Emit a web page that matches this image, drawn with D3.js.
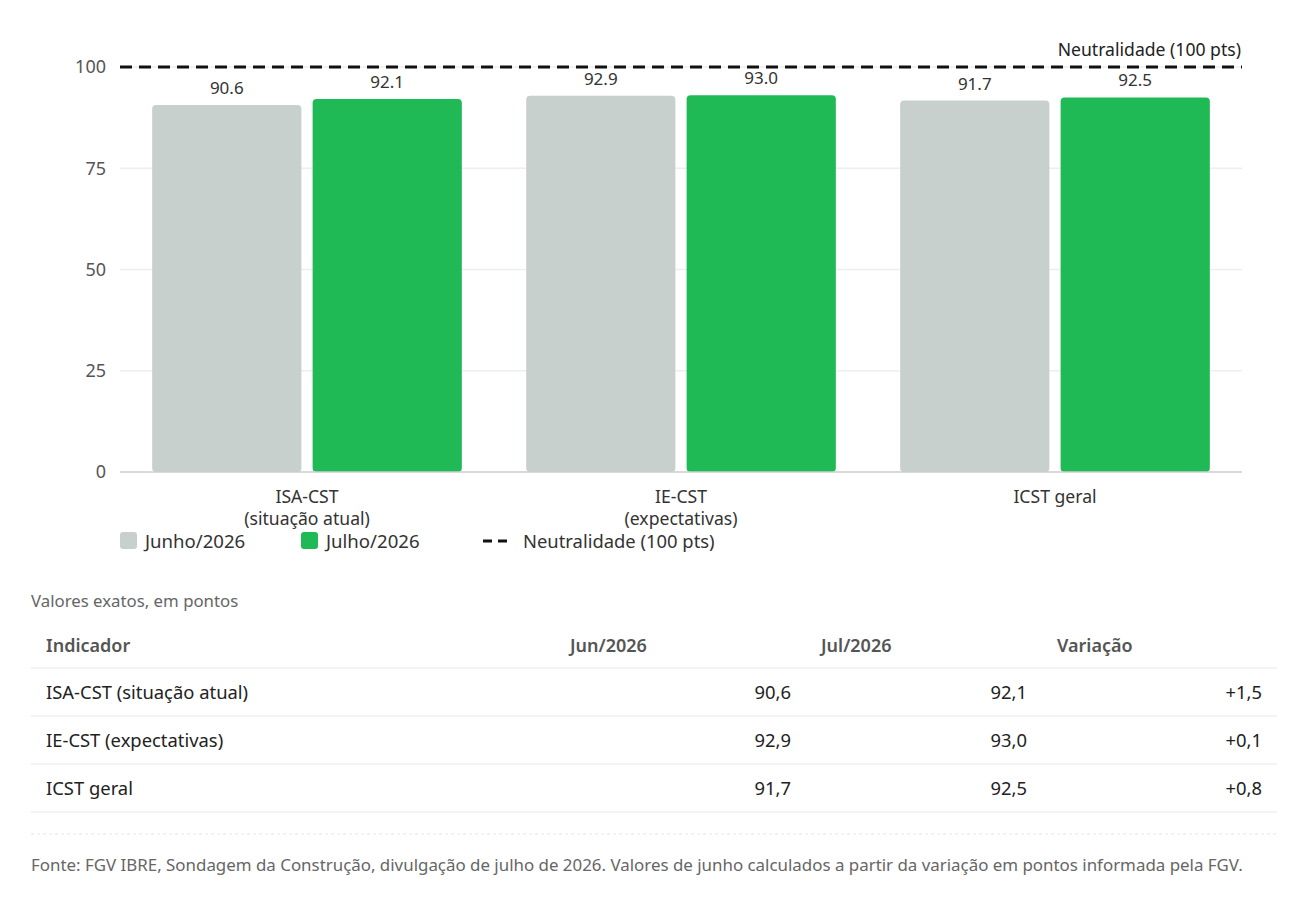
<!DOCTYPE html>
<html>
<head>
<meta charset="utf-8">
<script src="https://cdn.jsdelivr.net/npm/d3@7"></script>
<style>
  body { margin: 0; background: #fff; }
  svg text { font-family: "Segoe UI", "Noto Sans", sans-serif; }
</style>
</head>
<body>
<svg id="chart" width="1301" height="902"></svg>
<script>
// data
var categories = ['ISA-CST\n(situação atual)', 'IE-CST\n(expectativas)', 'ICST geral'];
var tableNames = ['ISA-CST (situação atual)', 'IE-CST (expectativas)', 'ICST geral'];
var series = ['Junho/2026', 'Julho/2026'];
var junho = [90.6, 92.9, 91.7];
var julho = [92.1, 93.0, 92.5];
var variacao = ['+1,5', '+0,1', '+0,8'];
var yTicks = [0, 25, 50, 75, 100];
var neutral = 100;
var tableHeaders = ['Indicador', 'Jun/2026', 'Jul/2026', 'Variação'];

var colors = {'Junho/2026': '#c7d0cd', 'Julho/2026': '#1fba55'};

var svg = d3.select('#chart');
var margin = {top: 67, left: 120, right: 59};
var width = 1301 - margin.left - margin.right;
var plotH = 405;

var g = svg.append('g').attr('transform', 'translate(' + margin.left + ',' + margin.top + ')');

var x0 = d3.scaleBand().domain(categories).range([0, width]).paddingInner(0.172).paddingOuter(0.086);
var x1 = d3.scaleBand().domain(series).range([0, x0.bandwidth()]).paddingInner(0.07);
var y = d3.scaleLinear().domain([0, 100]).range([plotH, 0]);

// gridlines
g.selectAll('.grid').data(yTicks.filter(function(d){ return d > 0; }))
    .enter().append('line')
    .attr('x1', 0).attr('x2', width)
    .attr('y1', function(d){ return y(d); }).attr('y2', function(d){ return y(d); })
    .attr('stroke', '#eeeeee').attr('stroke-width', 1.5);

// y axis
var yAxis = g.append('g').call(d3.axisLeft(y).tickValues(yTicks).tickSize(0).tickPadding(14));
yAxis.select('.domain').remove();
yAxis.selectAll('text').attr('font-size', 18).attr('fill', '#555')
    .style('font-family', '"Segoe UI", "Noto Sans", sans-serif');

// bars
var rows = categories.map(function(c, i){
    return [{cat: c, s: 'Junho/2026', v: junho[i]}, {cat: c, s: 'Julho/2026', v: julho[i]}];
});
var groups = g.selectAll('.grp').data(rows).enter().append('g')
    .attr('transform', function(d){ return 'translate(' + x0(d[0].cat) + ',0)'; });

groups.selectAll('rect').data(function(d){ return d; }).enter().append('rect')
    .attr('x', function(d){ return x1(d.s); })
    .attr('y', function(d){ return y(d.v); })
    .attr('width', x1.bandwidth())
    .attr('height', function(d){ return plotH - y(d.v); })
    .attr('rx', 4)
    .attr('fill', function(d){ return colors[d.s]; });

groups.selectAll('.lbl').data(function(d){ return d; }).enter().append('text')
    .attr('x', function(d){ return x1(d.s) + x1.bandwidth() / 2; })
    .attr('y', function(d){ return y(d.v) - 11; })
    .attr('text-anchor', 'middle')
    .attr('font-size', 17).attr('fill', '#333')
    .text(function(d){ return d.v.toFixed(1); });

// baseline
g.append('line').attr('x1', 0).attr('x2', width).attr('y1', plotH).attr('y2', plotH)
    .attr('stroke', '#cccccc').attr('stroke-width', 1.5);

// neutral line
g.append('line').attr('x1', 0).attr('x2', width)
    .attr('y1', y(neutral)).attr('y2', y(neutral))
    .attr('stroke', '#111').attr('stroke-width', 3).attr('stroke-dasharray', '12,7');
g.append('text').attr('x', width - 1).attr('y', y(neutral) - 11)
    .attr('text-anchor', 'end').attr('font-size', 17.6).attr('fill', '#222')
    .text('Neutralidade (100 pts)');

// x labels
var xl = g.selectAll('.xl').data(categories).enter().append('text')
    .attr('x', function(d){ return x0(d) + x0.bandwidth() / 2; })
    .attr('y', plotH + 31)
    .attr('text-anchor', 'middle').attr('font-size', 17.6).attr('fill', '#333');
xl.selectAll('tspan').data(function(d){ return d.split('\n'); }).enter().append('tspan')
    .attr('x', function(){ var p = this.parentNode.__data__; return x0(p) + x0.bandwidth() / 2; })
    .attr('dy', function(d, i){ return i ? 22 : 0; })
    .text(function(d){ return d; });

// legend
var legend = svg.append('g').attr('transform', 'translate(120,542)');
var legItems = [
    {label: series[0], type: 'box', color: colors[series[0]], x: 0},
    {label: series[1], type: 'box', color: colors[series[1]], x: 181},
    {label: 'Neutralidade (100 pts)', type: 'dash', x: 363}
];
legItems.forEach(function(d){
    var it = legend.append('g').attr('transform', 'translate(' + d.x + ',0)');
    if (d.type === 'box') {
        it.append('rect').attr('x', 0).attr('y', -10).attr('width', 17).attr('height', 17)
            .attr('rx', 3).attr('fill', d.color);
        it.append('text').attr('x', 25).attr('y', 6).attr('font-size', 18.6).attr('fill', '#333').text(d.label);
    } else {
        it.append('line').attr('x1', 0).attr('x2', 24).attr('y1', -1).attr('y2', -1)
            .attr('stroke', '#111').attr('stroke-width', 3).attr('stroke-dasharray', '9,6');
        it.append('text').attr('x', 40).attr('y', 6).attr('font-size', 18.4).attr('fill', '#333').text(d.label);
    }
});

// table
svg.append('text').attr('x', 31).attr('y', 607).attr('font-size', 16.8).attr('fill', '#666')
    .text('Valores exatos, em pontos');

var colEdges = [31, 555, 806, 1042, 1277];
var rowY = d3.scaleLinear().domain([0, 1]).range([668, 716]);

var th = svg.append('g');
th.selectAll('text').data(tableHeaders).enter().append('text')
    .attr('x', function(d, i){ return colEdges[i] + 15; })
    .attr('y', 652).attr('font-size', 18).attr('font-weight', 600).attr('fill', '#555')
    .text(function(d){ return d; });

svg.selectAll('.sep').data([0, 1, 2, 3]).enter().append('line')
    .attr('x1', 31).attr('x2', 1277)
    .attr('y1', function(d){ return rowY(d); }).attr('y2', function(d){ return rowY(d); })
    .attr('stroke', '#e8e8e8').attr('stroke-width', 1.2);

var fmt = function(v){ return v.toFixed(1).replace('.', ','); };
var trs = svg.selectAll('.tr').data(tableNames).enter().append('g')
    .attr('transform', function(d, i){ return 'translate(0,' + (rowY(i) + 31) + ')'; });
trs.append('text').attr('x', colEdges[0] + 15).attr('font-size', 18.4).attr('fill', '#222')
    .text(function(d){ return d; });
trs.append('text').attr('x', colEdges[2] - 15).attr('text-anchor', 'end').attr('font-size', 18.4).attr('fill', '#222')
    .text(function(d, i){ return fmt(junho[i]); });
trs.append('text').attr('x', colEdges[3] - 15).attr('text-anchor', 'end').attr('font-size', 18.4).attr('fill', '#222')
    .text(function(d, i){ return fmt(julho[i]); });
trs.append('text').attr('x', colEdges[4] - 15).attr('text-anchor', 'end').attr('font-size', 18.4).attr('fill', '#222')
    .text(function(d, i){ return variacao[i]; });

// footer
svg.append('line').attr('x1', 31).attr('x2', 1277).attr('y1', 834).attr('y2', 834)
    .attr('stroke', '#e6e6e6').attr('stroke-dasharray', '3,3');
svg.append('text').attr('x', 31).attr('y', 871).attr('font-size', 16.9).attr('fill', '#666')
    .text('Fonte: FGV IBRE, Sondagem da Construção, divulgação de julho de 2026. Valores de junho calculados a partir da variação em pontos informada pela FGV.');
</script>
</body>
</html>
